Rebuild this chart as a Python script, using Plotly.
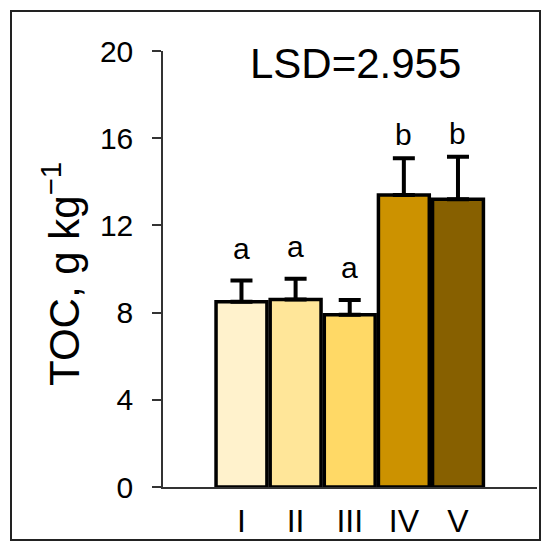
import plotly.graph_objects as go

categories = ["I", "II", "III", "IV", "V"]
toc_values = [8.5, 8.6, 7.9, 13.4, 13.2]
toc_errors = [0.97, 0.95, 0.68, 1.68, 1.95]
group_letters = ["a", "a", "a", "b", "b"]
bar_colors = ["#FFF2CC", "#FFE699", "#FFD966", "#CC9200", "#876000"]
y_ticks = [0, 4, 8, 12, 16, 20]
lsd_label = "LSD=2.955"

FONT = "Arial, Liberation Sans, sans-serif"

# page body has an 8px default margin, so the figure is sized to fit the window
W, H = 542, 540
L, R, T, B = 155, 13, 43, 61
pw, ph = W - L - R, H - T - B


def px(xp):
    return (xp - L) / pw


def py(yp):
    return (H - B - yp) / ph


fig = go.Figure()
fig.add_trace(go.Bar(
    x=categories,
    y=toc_values,
    width=0.94,
    marker=dict(color=bar_colors, line=dict(color="black", width=3.5)),
    error_y=dict(type="data", array=toc_errors, arrayminus=[0] * len(toc_errors),
                 symmetric=False, color="black", thickness=4, width=11),
    showlegend=False,
))

letter_shift = {"a": 14, "b": 5}
for cat, v, e, lt in zip(categories, toc_values, toc_errors, group_letters):
    fig.add_annotation(x=cat, y=v + e, text=lt, showarrow=False,
                       xref="x", yref="y", yanchor="bottom", yshift=letter_shift.get(lt, 10),
                       font=dict(family=FONT, size=30, color="black"))

fig.add_annotation(x=px(355.5 - 8), y=py(64 - 8), xref="paper", yref="paper", text=lsd_label,
                   showarrow=False, xanchor="center", yanchor="middle",
                   font=dict(family=FONT, size=42, color="black"))

fig.add_annotation(x=px(61 - 8), y=py(274 - 8), xref="paper", yref="paper",
                   text="TOC, g kg<sup>−1</sup>", textangle=-90, showarrow=False,
                   xanchor="center", yanchor="middle",
                   font=dict(family=FONT, size=42, color="black"))

fig.add_shape(type="rect", xref="paper", yref="paper",
              x0=px(3), x1=px(532), y0=py(532), y1=py(3),
              line=dict(color="#222222", width=2), layer="below")

fig.update_layout(
    width=W, height=H,
    margin=dict(l=L, r=R, t=T, b=B, autoexpand=False),
    paper_bgcolor="white", plot_bgcolor="white",
    font=dict(family=FONT, color="black"),
)
fig.update_xaxes(
    type="category", range=[-1.45, 5.46],
    showline=True, linecolor="#333333", linewidth=1.5,
    ticks="", showgrid=False, zeroline=False,
    tickfont=dict(family=FONT, size=32, color="black"),
    ticklabelstandoff=5,
)
fig.update_yaxes(
    range=[0, 20], tickvals=y_ticks,
    showline=True, linecolor="#333333", linewidth=1.5,
    ticks="outside", ticklen=9, tickwidth=1.5, tickcolor="#333333",
    showgrid=False, zeroline=False,
    tickfont=dict(family=FONT, size=30, color="black"),
    ticklabelstandoff=13,
)

fig.write_html("out.html")
